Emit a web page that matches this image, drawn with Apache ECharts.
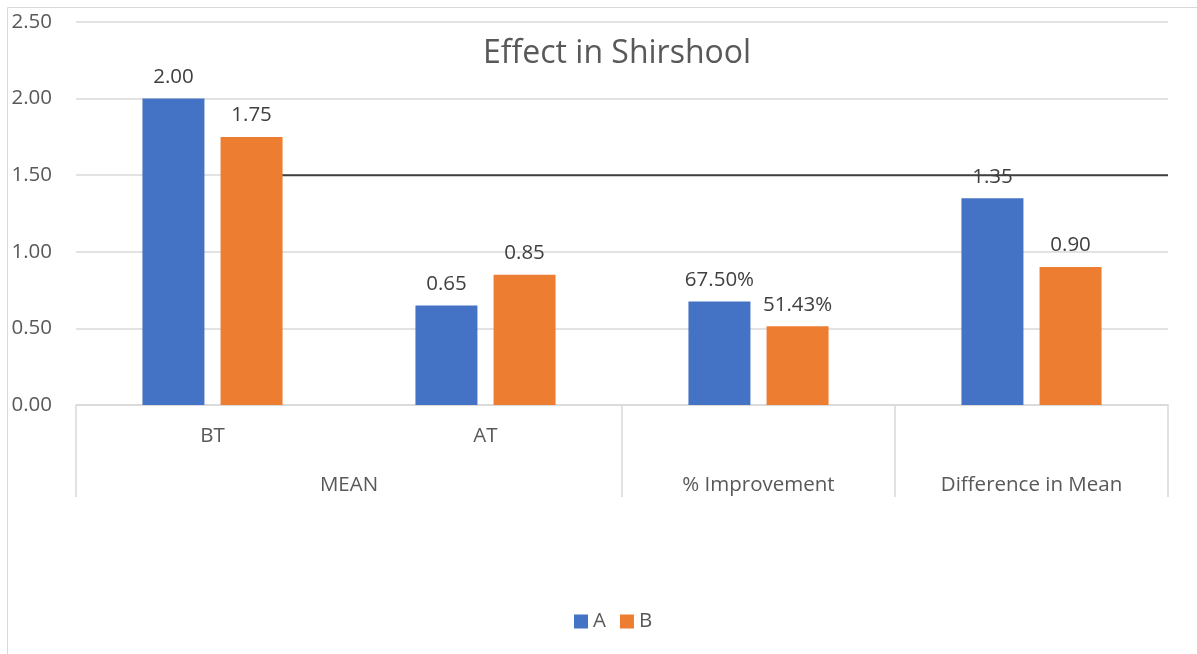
<!DOCTYPE html>
<html lang="en" style="height: 100%">
<head>
  <meta charset="utf-8">
  <title>Effect in Shirshool</title>
  <script src="https://cdn.jsdelivr.net/npm/echarts@6/dist/echarts.min.js"></script>
</head>
<body style="height: 100%; margin: 0; background: #fff">
  <div id="container" style="width: 1197px; height: 654px"></div>
  <script type="text/javascript">
    // data
    var categories = ['BT', 'AT', '% Improvement', 'Difference in Mean'];
    var seriesA = [2.00, 0.65, 0.675, 1.35];
    var seriesB = [1.75, 0.85, 0.5143, 0.90];
    var labelsA = ['2.00', '0.65', '67.50%', '1.35'];
    var labelsB = ['1.75', '0.85', '51.43%', '0.90'];
    // second row of the category axis: [position on band scale, text]
    var groupLabels = [[1, 'MEAN'], [2.5, '% Improvement'], [3.5, 'Difference in Mean']];
    // dark reference line at 1.50 (start/end on band scale)
    var refLine = [[0.74, 1.5], [4, 1.5]];

    var font = '"Open Sans", sans-serif';
    var grey = '#595959';
    var fs = 20.5;

    var dom = document.getElementById('container');
    var myChart = echarts.init(dom, null, { renderer: 'canvas' });

    function groupText(v) {
      for (var i = 0; i < groupLabels.length; i++) {
        if (Math.abs(groupLabels[i][0] - v) < 1e-6) return groupLabels[i][1];
      }
      return '';
    }

    var option = {
      animation: false,
      color: ['#4472C4', '#ED7D31'],
      title: {
        text: 'Effect in Shirshool',
        left: 478,
        top: 33,
        textStyle: { fontFamily: font, fontSize: 32, fontWeight: 'normal', color: grey }
      },
      graphic: [{
        type: 'rect',
        shape: { x: 7.5, y: 7.5, width: 1400, height: 900 },
        style: { fill: null, stroke: '#d9d9d9', lineWidth: 1 },
        silent: true
      }],
      legend: {
        bottom: 17,
        left: 569,
        itemWidth: 14,
        itemHeight: 14,
        itemGap: 14,
        icon: 'rect',
        textStyle: { fontFamily: font, fontSize: fs, color: grey },
        data: ['A', 'B']
      },
      grid: { left: 76, right: 29, top: 22, bottom: 249 },
      xAxis: [{
        type: 'category',
        position: 'bottom',
        data: categories,
        axisLine: { lineStyle: { color: '#d9d9d9', width: 1.5 } },
        axisTick: {
          show: true,
          length: 92,
          interval: function (index) { return index !== 1; },
          lineStyle: { color: '#d9d9d9', width: 1.5 }
        },
        axisLabel: {
          margin: 21,
          interval: 0,
          fontFamily: font,
          fontSize: fs,
          color: grey,
          formatter: function (v) { return (v === 'BT' || v === 'AT') ? v : ''; }
        }
      }, {
        type: 'value',
        position: 'bottom',
        min: 0,
        max: 4,
        interval: 0.5,
        axisLine: { show: false },
        axisTick: { show: false },
        splitLine: { show: false },
        axisLabel: {
          margin: 70,
          fontFamily: font,
          fontSize: fs,
          color: grey,
          formatter: groupText
        }
      }],
      yAxis: {
        type: 'value',
        min: 0,
        max: 2.5,
        interval: 0.5,
        axisLine: { show: false },
        axisTick: { show: false },
        splitLine: { lineStyle: { color: '#d9d9d9', width: 1.5 } },
        axisLabel: {
          margin: 24,
          fontFamily: font,
          fontSize: fs,
          color: grey,
          formatter: function (v) { return v.toFixed(2); }
        }
      },
      series: [{
        name: 'A',
        type: 'bar',
        data: seriesA,
        barWidth: 62,
        barGap: '26%',
        z: 3,
        label: {
          show: true,
          position: 'top',
          distance: 11,
          fontFamily: font,
          fontSize: fs,
          color: '#404040',
          formatter: function (p) { return labelsA[p.dataIndex]; }
        }
      }, {
        name: 'B',
        type: 'bar',
        data: seriesB,
        barWidth: 62,
        barGap: '26%',
        z: 3,
        label: {
          show: true,
          position: 'top',
          distance: 11,
          fontFamily: font,
          fontSize: fs,
          color: '#404040',
          formatter: function (p) { return labelsB[p.dataIndex]; }
        }
      }, {
        name: 'ref',
        type: 'line',
        xAxisIndex: 1,
        data: refLine,
        symbol: 'none',
        z: 1,
        silent: true,
        lineStyle: { color: '#404040', width: 2 }
      }]
    };

    myChart.setOption(option);
    window.addEventListener('resize', myChart.resize);
  </script>
</body>
</html>
